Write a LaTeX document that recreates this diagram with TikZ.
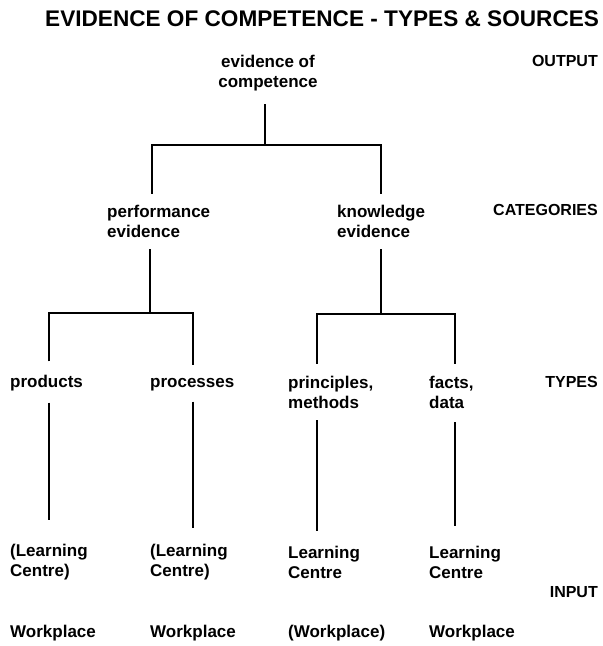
\documentclass[tikz,border=0pt]{standalone}
\usepackage{fontspec}
\setmainfont{Liberation Sans}

\begin{document}
\begin{tikzpicture}[x=1pt, y=-1pt,
    item/.style={font=\bfseries\fontsize{17}{20}\selectfont, align=left, anchor=west, inner sep=0pt},
    level/.style={font=\bfseries\fontsize{16}{20}\selectfont, anchor=east, inner sep=0pt},
    tree/.style={line width=2pt}]

    \useasboundingbox (0,0) rectangle (603,646);

    % heading
    \node[font=\bfseries\fontsize{22.6}{26}\selectfont, anchor=west, inner sep=0pt] (title) at (45,19) {EVIDENCE OF COMPETENCE - TYPES \& SOURCES};

    % level names down the right
    \node[level] (output) at (598,61) {OUTPUT};
    \node[level] (categories) at (598,210) {CATEGORIES};
    \node[level] (types) at (598,382) {TYPES};
    \node[level] (input) at (598,592) {INPUT};

    % tree entries
    \node[item, align=center, anchor=center] (evidence) at (268,73) {evidence of\\competence};
    \node[item] (perf) at (107,221) {performance\\evidence};
    \node[item] (know) at (337,221) {knowledge\\evidence};

    \node[item, anchor=base west] (products) at (10,387) {products};
    \node[item, anchor=base west] (processes) at (150,387) {processes};
    \node[item] (principles) at (288,392) {principles,\\methods};
    \node[item] (facts) at (429,392) {facts,\\data};

    \node[item] (lc1) at (10,562) {(Learning\\Centre)};
    \node[item] (lc2) at (150,562) {(Learning\\Centre)};
    \node[item] (lc3) at (288,562) {Learning\\Centre};
    \node[item] (lc4) at (429,562) {Learning\\Centre};

    \node[item] (wp1) at (10,633) {Workplace};
    \node[item] (wp2) at (150,633) {Workplace};
    \node[item] (wp3) at (288,633) {(Workplace)};
    \node[item] (wp4) at (429,633) {Workplace};

    % junctions and columns
    \coordinate (j0) at (265,145);
    \coordinate (j1) at (150,313);
    \coordinate (j2) at (381,314);
    \coordinate (pc) at (152,0);
    \coordinate (kc) at (381,0);
    \coordinate (c1) at (49,0);
    \coordinate (c2) at (193,0);
    \coordinate (c3) at (317,0);
    \coordinate (c4) at (455,0);

    % output -> categories
    \draw[tree, shorten <=13pt] (j0 |- evidence.south) -- (j0);
    \draw[tree, shorten <=11pt, shorten >=11pt] (pc |- perf.north) |- (j0) -| (kc |- know.north);

    % categories -> types
    \draw[tree, shorten <=12pt] (j1 |- perf.south) -- (j1);
    \draw[tree, shorten <=13pt, shorten >=13pt] (c1 |- products.north) |- (j1) -| (c2 |- processes.north);
    \draw[tree, shorten <=12pt] (j2 |- know.south) -- (j2);
    \draw[tree, shorten <=12pt, shorten >=12pt] (c3 |- principles.north) |- (j2) -| (c4 |- facts.north);

    % types -> input
    \draw[tree, shorten <=12pt, shorten >=24pt] (c1 |- products.south) -- (c1 |- lc1.north);
    \draw[tree, shorten <=11pt, shorten >=16pt] (c2 |- processes.south) -- (c2 |- lc2.north);
    \draw[tree, shorten <=12pt, shorten >=15pt] (c3 |- principles.south) -- (c3 |- lc3.north);
    \draw[tree, shorten <=14pt, shorten >=20pt] (c4 |- facts.south) -- (c4 |- lc4.north);
\end{tikzpicture}
\end{document}
